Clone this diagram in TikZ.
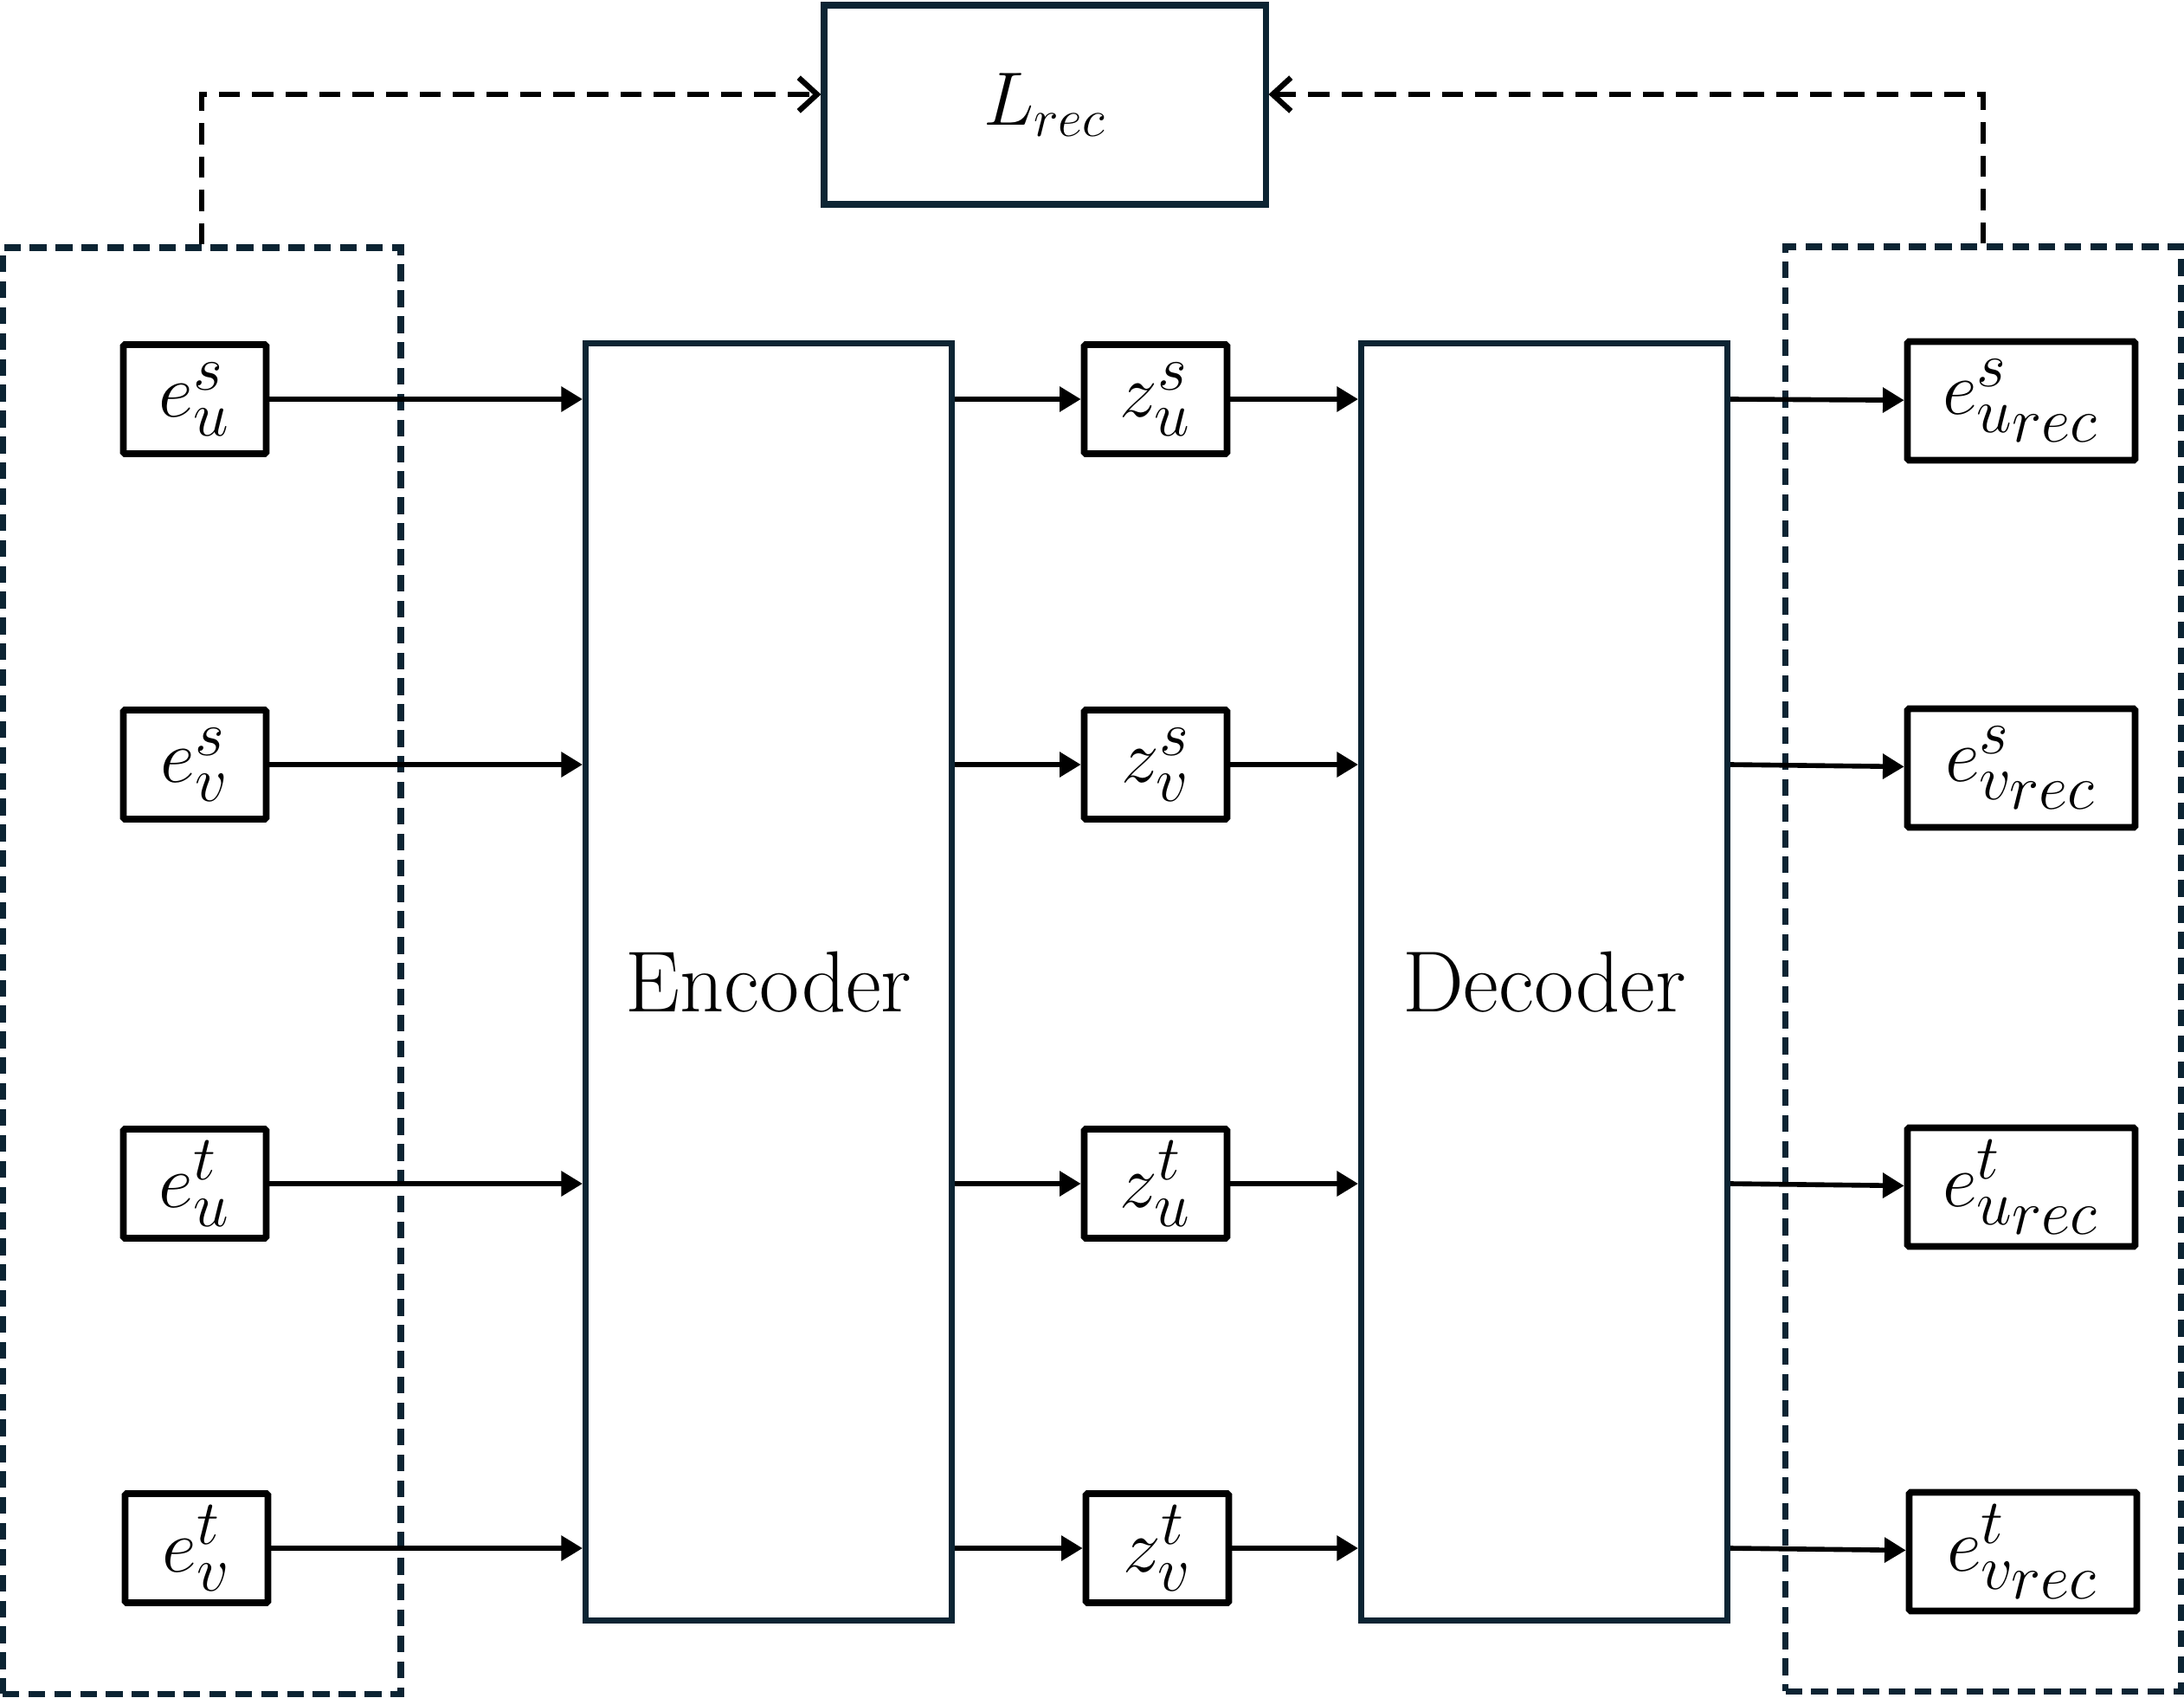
\documentclass[tikz,border=0pt]{standalone}
\usetikzlibrary{arrows.meta}
\definecolor{navy}{HTML}{0C2433}

\begin{document}
\begin{tikzpicture}[
		bloco/.style={shape=rectangle, draw=navy, line width=2pt, align=center, font=\fontsize{28.5}{34}\selectfont},
		var/.style={shape=rectangle, draw=black, line width=2.2pt, rounded corners=0.5pt, inner sep=0pt, minimum width=1.65cm, minimum height=1.26cm, font=\fontsize{29}{35}\selectfont},
		varrec/.style={var, minimum width=2.63cm, minimum height=1.37cm},
		grupo/.style={shape=rectangle, draw=navy, line width=2pt, dash pattern=on 5.5pt off 3pt},
		seta/.style={-{Triangle[length=7pt,width=8pt]}, line width=1.6pt},
		retorno/.style={-{Straight Barb[length=6pt,width=11pt]}, line width=1.8pt, dash pattern=on 7pt off 4pt}
	]
			\useasboundingbox (0,0) rectangle (25.23,-19.60);
			
			\node (loss)[bloco, minimum width=5.1cm, minimum height=2.3cm, font=\fontsize{26}{31}\selectfont] 
			at (12.07,-1.21){$L_{\scriptstyle rec}$}; 
			
			\node (gin)[grupo, minimum width=4.6cm, minimum height=16.7cm] 
			at (2.33,-11.21){}; 
			
			\node (gout)[grupo, minimum width=4.57cm, minimum height=16.68cm] 
			at (22.91,-11.19){}; 
			
			\node (enc)[bloco, minimum width=4.23cm, minimum height=14.75cm] 
			at (8.88,-11.34){Encoder}; 
			
			\node (dec)[bloco, minimum width=4.23cm, minimum height=14.75cm] 
			at (17.84,-11.34){Decoder}; 
			
			% entradas
			\node (in1)[var] at (2.25,-4.61) {$e^{s}_{u}$};
			\node (in2)[var] at (2.25,-8.83) {$e^{s}_{v}$};
			\node (in3)[var] at (2.25,-13.67) {$e^{t}_{u}$};
			\node (in4)[var] at (2.27,-17.88) {$e^{t}_{v}$};
			
			% espaco latente
			\node (z1)[var] at (13.35,-4.61) {$z^{s}_{u}$};
			\node (z2)[var] at (13.35,-8.83) {$z^{s}_{v}$};
			\node (z3)[var] at (13.35,-13.67) {$z^{t}_{u}$};
			\node (z4)[var] at (13.37,-17.88) {$z^{t}_{v}$};
			
			% reconstrucoes
			\node (out1)[varrec] at (23.35,-4.63) {$e^{s}_{u_{\scriptstyle rec}}$};
			\node (out2)[varrec] at (23.35,-8.87) {$e^{s}_{v_{\scriptstyle rec}}$};
			\node (out3)[varrec] at (23.35,-13.71) {$e^{t}_{u_{\scriptstyle rec}}$};
			\node (out4)[varrec] at (23.37,-17.92) {$e^{t}_{v_{\scriptstyle rec}}$};
			
			\path[seta] (in1) edge (in1 -| enc.west);
			\path[seta] (in2) edge (in2 -| enc.west);
			\path[seta] (in3) edge (in3 -| enc.west);
			\path[seta] (in4) edge (in4 -| enc.west);
			
			\path[seta] (enc.east |- z1) edge (z1);
			\path[seta] (enc.east |- z2) edge (z2);
			\path[seta] (enc.east |- z3) edge (z3);
			\path[seta] (enc.east |- z4) edge (z4);
			
			\path[seta] (z1) edge (z1 -| dec.west);
			\path[seta] (z2) edge (z2 -| dec.west);
			\path[seta] (z3) edge (z3 -| dec.west);
			\path[seta] (z4) edge (z4 -| dec.west);
			
			\path[seta] (dec.east |- z1) edge (out1);
			\path[seta] (dec.east |- z2) edge (out2);
			\path[seta] (dec.east |- z3) edge (out3);
			\path[seta] (dec.east |- z4) edge (out4);
			
			\draw[retorno] (gin.north) |- ([yshift=1.2mm]loss.west);
			\draw[retorno] (gout.north) |- ([yshift=1.2mm]loss.east);
		\end{tikzpicture}
\end{document}
